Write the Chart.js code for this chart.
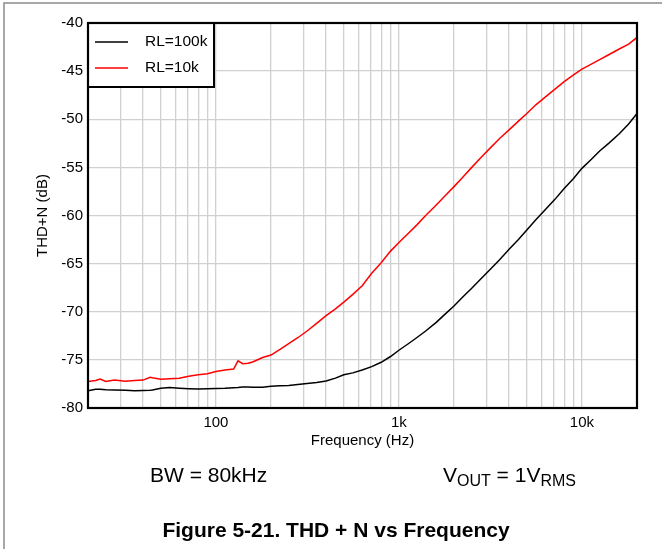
<!DOCTYPE html>
<html>
<head>
<meta charset="utf-8">
<title>THD + N vs Frequency</title>
<script src="https://cdn.jsdelivr.net/npm/chart.js@4.4.1/dist/chart.umd.min.js"></script>
<style>
body { margin: 0; background: #fff; }
#grafico { display: block; }
</style>
</head>
<body>
<canvas id="grafico" width="662" height="549"></canvas>
<script>
// frequencias (Hz)
var frequencias = [20, 22, 23.3, 25, 28, 32, 36, 40, 43.7, 45, 50, 56, 63, 71, 80, 90,
    100, 112, 125, 132, 140, 150, 160, 180, 200, 224, 250, 280, 315, 355, 400, 450,
    500, 560, 630, 710, 800, 900, 1000, 1120, 1250, 1400, 1600, 1800, 2000, 2240,
    2500, 2800, 3150, 3550, 4000, 4500, 5000, 5600, 6300, 7100, 8000, 9000, 10000,
    11200, 12500, 14000, 16000, 18000, 20000];

// RL=100k (preto)
var thd100k = [-78.2, -78.05, -78.05, -78.1, -78.13, -78.15, -78.2, -78.18, -78.15, -78.13,
    -77.96, -77.88, -77.95, -78.0, -78.03, -78.0, -77.98, -77.96, -77.9, -77.87, -77.82,
    -77.82, -77.84, -77.85, -77.75, -77.7, -77.65, -77.55, -77.45, -77.35, -77.2, -76.9,
    -76.55, -76.35, -76.05, -75.7, -75.25, -74.65, -74.0, -73.35, -72.7, -72.0, -71.1,
    -70.2, -69.4, -68.45, -67.55, -66.6, -65.6, -64.6, -63.5, -62.5, -61.5, -60.45,
    -59.4, -58.35, -57.2, -56.15, -55.1, -54.2, -53.3, -52.5, -51.5, -50.5, -49.4];

// RL=10k (vermelho)
var thd10k = [-77.26, -77.15, -77.0, -77.25, -77.1, -77.22, -77.15, -77.1, -76.8, -76.85,
    -77.0, -76.95, -76.9, -76.7, -76.55, -76.45, -76.2, -76.05, -75.95, -75.1, -75.4,
    -75.35, -75.2, -74.75, -74.5, -73.9, -73.3, -72.7, -72.0, -71.2, -70.4, -69.7,
    -69.0, -68.2, -67.3, -66.0, -64.9, -63.7, -62.8, -61.9, -61.0, -60.0, -58.9,
    -57.9, -57.0, -56.0, -55.0, -54.0, -53.0, -52.0, -51.1, -50.2, -49.4, -48.5,
    -47.7, -46.9, -46.1, -45.4, -44.8, -44.3, -43.8, -43.3, -42.7, -42.2, -41.5];

var ticksY = [-80, -75, -70, -65, -60, -55, -50, -45, -40];
var ticksX = [20, 30, 40, 50, 60, 70, 80, 90, 100, 200, 300, 400, 500, 600, 700, 800, 900,
    1000, 2000, 3000, 4000, 5000, 6000, 7000, 8000, 9000, 10000, 20000];
var rotulosX = { 100: '100', 1000: '1k', 10000: '10k' };

var fonte = '"Liberation Sans", Arial, sans-serif';

function pontos(valores) {
    var lista = [];
    for (var i = 0; i < frequencias.length; i++) {
        lista.push({ x: frequencias[i], y: valores[i] });
    }
    return lista;
}

// moldura, legenda e textos de baixo
var moldura = {
    id: 'moldura',
    afterDraw: function (chart) {
        var ctx = chart.ctx;
        var a = chart.chartArea;
        ctx.save();

        ctx.strokeStyle = '#8c8c8c';
        ctx.lineWidth = 1.5;
        ctx.beginPath();
        ctx.moveTo(4, 549);
        ctx.lineTo(4, 3);
        ctx.lineTo(662, 3);
        ctx.stroke();

        // legenda
        ctx.fillStyle = '#fff';
        ctx.fillRect(a.left, a.top, 126, 64);
        ctx.strokeStyle = '#000';
        ctx.lineWidth = 2;
        ctx.strokeRect(a.left, a.top, 126, 64);
        var ds = chart.data.datasets;
        ctx.font = '15.5px ' + fonte;
        ctx.textBaseline = 'middle';
        ctx.textAlign = 'left';
        for (var i = 0; i < ds.length; i++) {
            var y = a.top + 19 + i * 26;
            ctx.strokeStyle = ds[i].borderColor;
            ctx.lineWidth = 1.5;
            ctx.beginPath();
            ctx.moveTo(a.left + 7, y);
            ctx.lineTo(a.left + 40, y);
            ctx.stroke();
            ctx.fillStyle = '#000';
            ctx.fillText(ds[i].label, a.left + 57, y);
        }

        // borda da area do grafico
        ctx.strokeStyle = '#000';
        ctx.lineWidth = 2.2;
        ctx.strokeRect(a.left, a.top, a.right - a.left, a.bottom - a.top);

        // condicoes de teste
        ctx.fillStyle = '#000';
        ctx.textBaseline = 'alphabetic';
        ctx.font = '21px ' + fonte;
        ctx.fillText('BW = 80kHz', 150, 482);
        var x = 443;
        ctx.fillText('V', x, 482);
        x += ctx.measureText('V').width;
        ctx.font = '16px ' + fonte;
        ctx.fillText('OUT', x, 485.5);
        x += ctx.measureText('OUT').width;
        ctx.font = '21px ' + fonte;
        ctx.fillText(' = 1V', x, 482);
        x += ctx.measureText(' = 1V').width;
        ctx.font = '16px ' + fonte;
        ctx.fillText('RMS', x, 485.5);

        ctx.font = 'bold 21px ' + fonte;
        ctx.textAlign = 'center';
        ctx.fillText('Figure 5-21. THD + N vs Frequency', 336, 537);
        ctx.restore();
    }
};

function carregarGrafico() {
    var ctx = document.getElementById('grafico');
    Chart.defaults.font.family = fonte;
    Chart.defaults.color = '#000';
    new Chart(ctx, {
        type: 'line',
        data: {
            datasets: [{
                label: 'RL=100k',
                data: pontos(thd100k),
                borderColor: '#000000',
                borderWidth: 1.5,
                pointRadius: 0,
                tension: 0
            }, {
                label: 'RL=10k',
                data: pontos(thd10k),
                borderColor: '#ff0000',
                borderWidth: 1.5,
                pointRadius: 0,
                tension: 0
            }]
        },
        options: {
            responsive: false,
            animation: false,
            layout: { padding: { left: 0, top: 23, right: 25, bottom: 99 } },
            plugins: {
                legend: { display: false },
                tooltip: { enabled: false },
                title: { display: false }
            },
            scales: {
                x: {
                    type: 'logarithmic',
                    min: 20,
                    max: 20000,
                    afterBuildTicks: function (scale) {
                        scale.ticks = ticksX.map(function (v) { return { value: v }; });
                    },
                    afterFit: function (scale) { scale.height = 42; },
                    ticks: {
                        autoSkip: false,
                        maxRotation: 0,
                        padding: 6,
                        font: { size: 15 },
                        callback: function (v) { return rotulosX[v] || ''; }
                    },
                    grid: { color: '#d0d0d0', lineWidth: 1.3, drawTicks: false },
                    border: { display: false },
                    title: { display: true, text: 'Frequency (Hz)', font: { size: 15 }, padding: 0 }
                },
                y: {
                    min: -80,
                    max: -40,
                    afterBuildTicks: function (scale) {
                        scale.ticks = ticksY.map(function (v) { return { value: v }; });
                    },
                    afterFit: function (scale) { scale.width = 88; },
                    ticks: { padding: 5, font: { size: 15 } },
                    grid: { color: '#d0d0d0', lineWidth: 1.3, drawTicks: false },
                    border: { display: false },
                    title: { display: true, text: 'THD+N (dB)', font: { size: 15 }, padding: { top: 34, bottom: 0 } }
                }
            }
        },
        plugins: [moldura]
    });
}

window.onload = function () {
    carregarGrafico();
};
</script>
</body>
</html>
